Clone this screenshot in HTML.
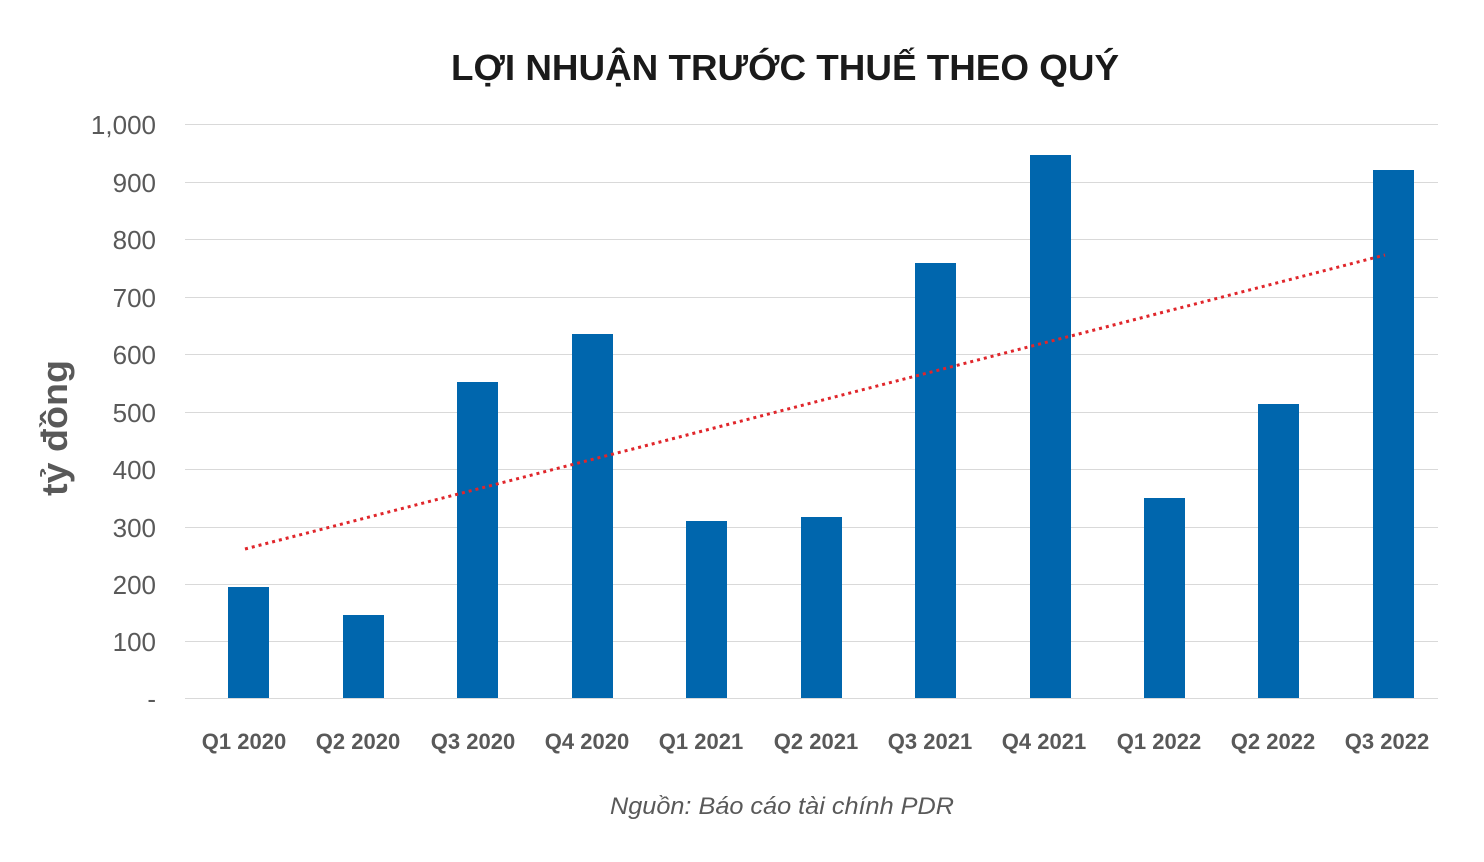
<!DOCTYPE html>
<html><head><meta charset="utf-8"><style>
body{margin:0;background:#fff;}
svg{display:block;font-family:"Liberation Sans","DejaVu Sans",sans-serif;}
</style></head><body>
<svg width="1484" height="862" xmlns="http://www.w3.org/2000/svg">
<rect width="1484" height="862" fill="#fff"/>
<text x="785" y="80" text-anchor="middle" font-size="36" font-weight="bold" fill="#1a1a1a" textLength="668" lengthAdjust="spacingAndGlyphs">LỢI NHUẬN TRƯỚC THUẾ THEO QUÝ</text>
<g stroke="#d9d9d9" stroke-width="1">
<line x1="185" x2="1438" y1="124.5" y2="124.5"/>
<line x1="185" x2="1438" y1="182.5" y2="182.5"/>
<line x1="185" x2="1438" y1="239.5" y2="239.5"/>
<line x1="185" x2="1438" y1="297.5" y2="297.5"/>
<line x1="185" x2="1438" y1="354.5" y2="354.5"/>
<line x1="185" x2="1438" y1="412.5" y2="412.5"/>
<line x1="185" x2="1438" y1="469.5" y2="469.5"/>
<line x1="185" x2="1438" y1="527.5" y2="527.5"/>
<line x1="185" x2="1438" y1="584.5" y2="584.5"/>
<line x1="185" x2="1438" y1="641.5" y2="641.5"/>
<line x1="185" x2="1438" y1="698.5" y2="698.5"/>
</g>
<g font-size="26" fill="#595959" text-anchor="end">
<text x="156" y="134">1,000</text>
<text x="156" y="192">900</text>
<text x="156" y="249">800</text>
<text x="156" y="307">700</text>
<text x="156" y="364">600</text>
<text x="156" y="422">500</text>
<text x="156" y="479">400</text>
<text x="156" y="537">300</text>
<text x="156" y="594">200</text>
<text x="156" y="651">100</text>
<text x="156" y="708">-</text>
</g>
<text transform="translate(67,428) rotate(-90)" text-anchor="middle" font-size="36" font-weight="bold" fill="#595959" textLength="136" lengthAdjust="spacingAndGlyphs">tỷ đồng</text>
<g fill="#0066ad">
<rect x="228" y="587" width="41" height="111"/>
<rect x="343" y="615" width="41" height="83"/>
<rect x="457" y="382" width="41" height="316"/>
<rect x="572" y="334" width="41" height="364"/>
<rect x="686" y="521" width="41" height="177"/>
<rect x="801" y="517" width="41" height="181"/>
<rect x="915" y="263" width="41" height="435"/>
<rect x="1030" y="155" width="41" height="543"/>
<rect x="1144" y="498" width="41" height="200"/>
<rect x="1258" y="404" width="41" height="294"/>
<rect x="1373" y="170" width="41" height="528"/>
</g>
<line x1="245" y1="549" x2="1385" y2="255" stroke="#e0262b" stroke-width="3" stroke-dasharray="3,4"/>
<g font-size="22" font-weight="bold" fill="#595959" text-anchor="middle">
<text x="244" y="749">Q1 2020</text>
<text x="358" y="749">Q2 2020</text>
<text x="473" y="749">Q3 2020</text>
<text x="587" y="749">Q4 2020</text>
<text x="701" y="749">Q1 2021</text>
<text x="816" y="749">Q2 2021</text>
<text x="930" y="749">Q3 2021</text>
<text x="1044" y="749">Q4 2021</text>
<text x="1159" y="749">Q1 2022</text>
<text x="1273" y="749">Q2 2022</text>
<text x="1387" y="749">Q3 2022</text>
</g>
<text x="782" y="814" text-anchor="middle" font-size="24" font-style="italic" fill="#595959" textLength="344" lengthAdjust="spacingAndGlyphs">Nguồn: Báo cáo tài chính PDR</text>
</svg>
</body></html>
